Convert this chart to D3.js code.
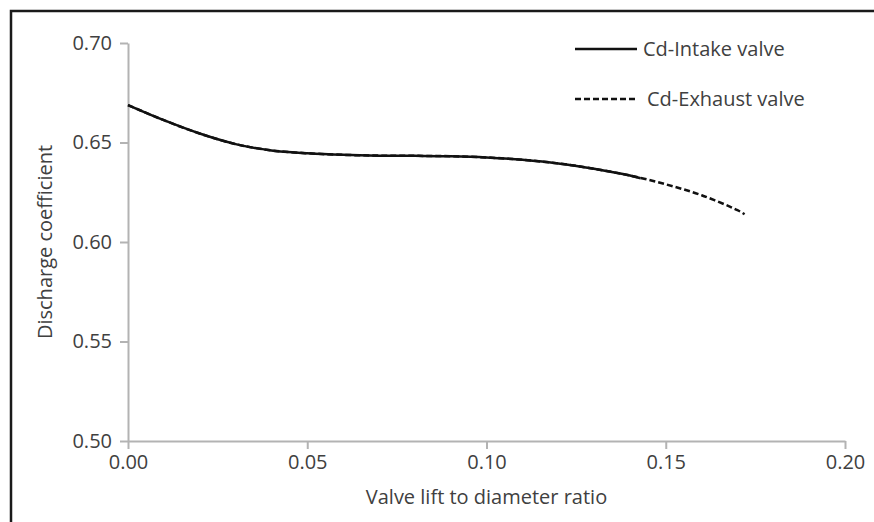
<!DOCTYPE html>
<html>
<head>
<meta charset="utf-8">
<script src="https://cdn.jsdelivr.net/npm/d3@7"></script>
<style>
  body { margin: 0; background: #fff; }
  text { font-family: "Open Sans", "Noto Sans", sans-serif; fill: #404040; }
</style>
</head>
<body>
<div id="chart"></div>
<script>
const svgWidth = 874;
const svgHeight = 522;

const margin = { top: 43, right: 29, bottom: 81, left: 128 };
const width = svgWidth - margin.left - margin.right;
const height = svgHeight - margin.top - margin.bottom;

// valve lift / diameter
const liftIntake = [0, 0.01, 0.02, 0.03, 0.04, 0.05, 0.06, 0.07, 0.08, 0.09, 0.10, 0.11, 0.12, 0.13, 0.14, 0.143];
const cdIntake = [0.6688, 0.6612, 0.6545, 0.6492, 0.6460, 0.6446, 0.6438, 0.6434, 0.6433, 0.6431, 0.6425, 0.6413, 0.6395, 0.6368, 0.6334, 0.632];

const liftExhaust = [0, 0.01, 0.02, 0.03, 0.04, 0.05, 0.06, 0.07, 0.08, 0.09, 0.10, 0.11, 0.12, 0.13, 0.14, 0.15, 0.16, 0.17, 0.172];
const cdExhaust = [0.6688, 0.6612, 0.6545, 0.6492, 0.6460, 0.6446, 0.6438, 0.6434, 0.6433, 0.6431, 0.6425, 0.6413, 0.6395, 0.6368, 0.6334, 0.6290, 0.6235, 0.6160, 0.6140];

const xTicks = [0, 0.05, 0.10, 0.15, 0.20];
const yTicks = [0.50, 0.55, 0.60, 0.65, 0.70];

const seriesNames = ["Cd-Intake valve", "Cd-Exhaust valve"];

const svg = d3.select("#chart")
  .append("svg")
  .attr("width", svgWidth)
  .attr("height", svgHeight);

// frame (only left and top edges show in the picture)
svg.append("path")
  .attr("d", `M11,${svgHeight} L11,11 L${svgWidth},11`)
  .attr("fill", "none")
  .attr("stroke", "#1a1a1a")
  .attr("stroke-width", 2.5);

const chartGroup = svg.append("g")
  .attr("transform", `translate(${margin.left}, ${margin.top})`);

const xScale = d3.scaleLinear().domain([0, 0.20]).range([0, width]);
const yScale = d3.scaleLinear().domain([0.50, 0.70]).range([height, 0]);

// axes
const bottomAxis = d3.axisBottom(xScale)
  .tickValues(xTicks)
  .tickFormat(d3.format(".2f"))
  .tickSize(8)
  .tickSizeOuter(0)
  .tickPadding(6);

const leftAxis = d3.axisLeft(yScale)
  .tickValues(yTicks)
  .tickFormat(d3.format(".2f"))
  .tickSize(8)
  .tickSizeOuter(0)
  .tickPadding(8);

const gx = chartGroup.append("g")
  .attr("transform", `translate(0, ${height})`)
  .call(bottomAxis);

const gy = chartGroup.append("g")
  .call(leftAxis);

[gx, gy].forEach(g => {
  g.select(".domain").attr("stroke", "#b3b3b3").attr("stroke-width", 2);
  g.selectAll(".tick line").attr("stroke", "#b3b3b3").attr("stroke-width", 2);
  g.selectAll(".tick text")
    .attr("fill", "#404040")
    .style("font-family", '"Open Sans", "Noto Sans", sans-serif')
    .style("font-size", "20px");
});

// axis titles
chartGroup.append("text")
  .attr("x", width / 2)
  .attr("y", height + 63)
  .attr("text-anchor", "middle")
  .style("font-size", "20px")
  .text("Valve lift to diameter ratio");

chartGroup.append("text")
  .attr("transform", "rotate(-90)")
  .attr("x", -height / 2)
  .attr("y", 52 - margin.left)
  .attr("text-anchor", "middle")
  .style("font-size", "20px")
  .text("Discharge coefficient");

// lines
const line = d3.line()
  .x(d => xScale(d[0]))
  .y(d => yScale(d[1]))
  .curve(d3.curveCatmullRom.alpha(0.5));

const exhaustData = liftExhaust.map((x, i) => [x, cdExhaust[i]]);
const intakeData = liftIntake.map((x, i) => [x, cdIntake[i]]);

chartGroup.append("path")
  .datum(exhaustData)
  .attr("d", line)
  .attr("fill", "none")
  .attr("stroke", "#111")
  .attr("stroke-width", 2.5)
  .attr("stroke-dasharray", "6,3");

chartGroup.append("path")
  .datum(intakeData)
  .attr("d", line)
  .attr("fill", "none")
  .attr("stroke", "#111")
  .attr("stroke-width", 2.5);

// legend
const legend = svg.append("g");
const legendY = [49, 99];
const legendDash = [null, "6,3"];
const legendTextX = [643, 647];

seriesNames.forEach((name, i) => {
  legend.append("line")
    .attr("x1", 575)
    .attr("x2", 637)
    .attr("y1", legendY[i])
    .attr("y2", legendY[i])
    .attr("stroke", "#111")
    .attr("stroke-width", 2.5)
    .attr("stroke-dasharray", legendDash[i]);

  legend.append("text")
    .attr("x", legendTextX[i])
    .attr("y", legendY[i])
    .attr("dy", "0.35em")
    .style("font-size", "20px")
    .text(name);
});
</script>
</body>
</html>
